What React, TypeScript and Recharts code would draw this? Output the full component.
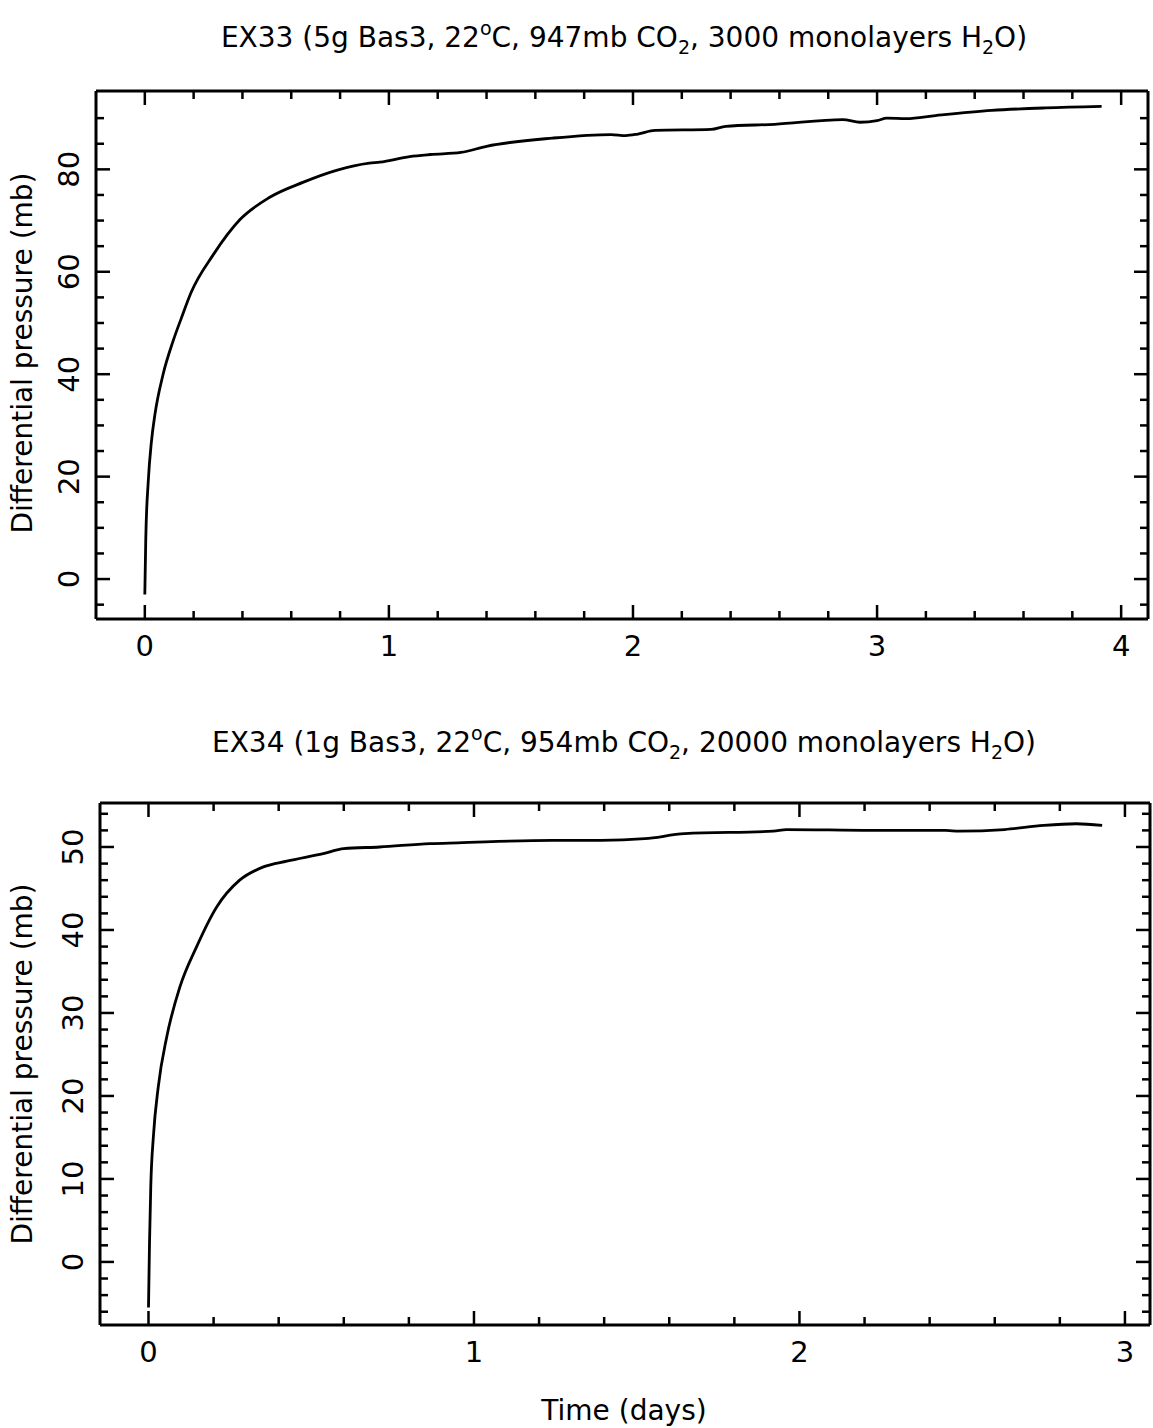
import React from "react";
import { LineChart, Line, XAxis, YAxis } from "recharts";

// EX33 run (top panel)
const ex33Days = [
  0, 0.004, 0.014, 0.027, 0.041, 0.075, 0.116, 0.15, 0.19, 0.28, 0.39, 0.51,
  0.65, 0.785, 0.92, 0.963, 1.085, 1.17, 1.295, 1.4, 1.67, 1.91, 1.97, 2.02,
  2.09, 2.32, 2.38, 2.58, 2.86, 2.93, 3.0, 3.04, 3.12, 3.24, 3.47, 3.69, 3.92,
];
const ex33Pressure = [
  -3, 8, 19, 26.8, 32, 40, 46.5, 51, 56, 63.3, 70.2, 74.5, 77.5, 79.8, 81.2,
  81.4, 82.5, 82.9, 83.3, 84.5, 86.1, 86.8, 86.6, 86.9, 87.6, 87.8, 88.4, 88.8,
  89.7, 89.2, 89.5, 90, 89.9, 90.5, 91.5, 92, 92.3,
];

// EX34 run (bottom panel)
const ex34Days = [
  0, 0.003, 0.007, 0.015, 0.03, 0.056, 0.097, 0.148, 0.21, 0.28, 0.353, 0.425,
  0.537, 0.6, 0.71, 0.865, 0.95, 1.24, 1.39, 1.525, 1.647, 1.92, 1.96, 2.22,
  2.45, 2.49, 2.63, 2.75, 2.85, 2.93,
];
const ex34Pressure = [
  -5.5, 2, 9.1, 15.1, 21.1, 27.1, 33.2, 38, 42.8, 46, 47.6, 48.3, 49.2, 49.8,
  50, 50.4, 50.5, 50.8, 50.8, 51, 51.6, 51.9, 52.1, 52, 52, 51.9, 52.1, 52.6,
  52.8, 52.6,
];

const ex33XTicks = [
  0, 0.2, 0.4, 0.6, 0.8, 1, 1.2, 1.4, 1.6, 1.8, 2, 2.2, 2.4, 2.6, 2.8, 3, 3.2,
  3.4, 3.6, 3.8, 4,
];
const ex33XLabels = [0, 1, 2, 3, 4];
const ex33YTicks = [
  -5, 0, 5, 10, 15, 20, 25, 30, 35, 40, 45, 50, 55, 60, 65, 70, 75, 80, 85, 90,
];
const ex33YLabels = [0, 20, 40, 60, 80];

const ex34XTicks = [
  0, 0.2, 0.4, 0.6, 0.8, 1, 1.2, 1.4, 1.6, 1.8, 2, 2.2, 2.4, 2.6, 2.8, 3,
];
const ex34XLabels = [0, 1, 2, 3];
const ex34YTicks = [
  -6, -4, -2, 0, 2, 4, 6, 8, 10, 12, 14, 16, 18, 20, 22, 24, 26, 28, 30, 32, 34,
  36, 38, 40, 42, 44, 46, 48, 50, 52, 54,
];
const ex34YLabels = [0, 10, 20, 30, 40, 50];

const FONT = "'DejaVu Sans', sans-serif";
const frame = { stroke: "#000", strokeWidth: 3 };

type Side = "bottom" | "top" | "left" | "right";

// ticks point inward, labels only on bottom/left majors
const makeTick = (side: Side, labels: number[]) => (props: any) => {
  const { x, y, payload } = props;
  const v = payload.value;
  const isMajor = labels.some((l) => Math.abs(l - v) < 1e-6);
  const len = isMajor ? 14 : 8;
  let x2 = x;
  let y2 = y;
  if (side === "bottom") y2 = y - len;
  if (side === "top") y2 = y + len;
  if (side === "left") x2 = x + len;
  if (side === "right") x2 = x - len;
  return (
    <g>
      <line x1={x} y1={y} x2={x2} y2={y2} stroke="#000" strokeWidth={2.5} />
      {isMajor && side === "bottom" && (
        <text
          x={x}
          y={y + 27}
          textAnchor="middle"
          dominantBaseline="central"
          style={{ fontFamily: FONT, fontSize: 29, fill: "#000" }}
        >
          {v}
        </text>
      )}
      {isMajor && side === "left" && (
        <text
          x={x - 27}
          y={y}
          textAnchor="middle"
          dominantBaseline="central"
          transform={`rotate(-90, ${x - 27}, ${y})`}
          style={{ fontFamily: FONT, fontSize: 29, fill: "#000" }}
        >
          {v}
        </text>
      )}
    </g>
  );
};

type PanelProps = {
  days: number[];
  values: number[];
  xDomain: [number, number];
  yDomain: [number, number];
  xTicks: number[];
  xLabels: number[];
  yTicks: number[];
  yLabels: number[];
  height: number;
  marginTop: number;
  marginRight: number;
  leftWidth: number;
  bottomHeight: number;
};

const Panel = (p: PanelProps) => {
  const data = p.days.map((d, i) => ({ day: d, pressure: p.values[i] }));
  return (
    <LineChart
      width={1153}
      height={p.height}
      data={data}
      margin={{ top: p.marginTop, right: p.marginRight, bottom: 0, left: 0 }}
    >
      <XAxis
        dataKey="day"
        type="number"
        domain={p.xDomain}
        allowDataOverflow
        ticks={p.xTicks}
        interval={0}
        height={p.bottomHeight}
        tickSize={0}
        tickMargin={0}
        tickLine={false}
        axisLine={frame}
        tick={makeTick("bottom", p.xLabels)}
      />
      <XAxis
        xAxisId="top"
        orientation="top"
        mirror
        dataKey="day"
        type="number"
        domain={p.xDomain}
        allowDataOverflow
        ticks={p.xTicks}
        interval={0}
        height={20}
        tickSize={0}
        tickMargin={0}
        tickLine={false}
        axisLine={frame}
        tick={makeTick("top", p.xLabels)}
      />
      <YAxis
        type="number"
        domain={p.yDomain}
        allowDataOverflow
        ticks={p.yTicks}
        interval={0}
        width={p.leftWidth}
        tickSize={0}
        tickMargin={0}
        tickLine={false}
        axisLine={frame}
        tick={makeTick("left", p.yLabels)}
      />
      <YAxis
        yAxisId="right"
        orientation="right"
        mirror
        type="number"
        domain={p.yDomain}
        allowDataOverflow
        ticks={p.yTicks}
        interval={0}
        width={20}
        tickSize={0}
        tickMargin={0}
        tickLine={false}
        axisLine={frame}
        tick={makeTick("right", p.yLabels)}
      />
      <Line
        dataKey="pressure"
        type="monotone"
        stroke="#000"
        strokeWidth={2.8}
        dot={false}
        isAnimationActive={false}
      />
    </LineChart>
  );
};

const textStyle: React.CSSProperties = {
  position: "absolute",
  fontFamily: FONT,
  fontSize: 28,
  color: "#000",
  whiteSpace: "nowrap",
  transform: "translate(-50%, -50%)",
};

const Title = ({ cx, cy, children }: { cx: number; cy: number; children: React.ReactNode }) => (
  <div style={{ ...textStyle, left: cx, top: cy }}>{children}</div>
);

const YLabel = ({ cx, cy }: { cx: number; cy: number }) => (
  <div
    style={{
      ...textStyle,
      left: cx,
      top: cy,
      transform: "translate(-50%, -50%) rotate(-90deg)",
    }}
  >
    Differential pressure (mb)
  </div>
);

const sub: React.CSSProperties = { fontSize: 19, verticalAlign: -7, lineHeight: 0 };
const sup: React.CSSProperties = { fontSize: 19, verticalAlign: 12, lineHeight: 0 };

export default function App() {
  return (
    <div
      style={{
        position: "absolute",
        left: 0,
        top: 0,
        width: 1153,
        height: 1428,
        background: "#fff",
      }}
    >
      <Title cx={624} cy={37}>
        EX33 (5g Bas3, 22<span style={sup}>o</span>C, 947mb CO<span style={sub}>2</span>, 3000
        monolayers H<span style={sub}>2</span>O)
      </Title>
      <div style={{ position: "absolute", left: 0, top: 0 }}>
        <Panel
          days={ex33Days}
          values={ex33Pressure}
          xDomain={[-0.2, 4.11]}
          yDomain={[-7.8, 95.3]}
          xTicks={ex33XTicks}
          xLabels={ex33XLabels}
          yTicks={ex33YTicks}
          yLabels={ex33YLabels}
          height={700}
          marginTop={91}
          marginRight={5}
          leftWidth={96}
          bottomHeight={81}
        />
      </div>
      <YLabel cx={22} cy={353} />

      <Title cx={624} cy={742}>
        EX34 (1g Bas3, 22<span style={sup}>o</span>C, 954mb CO<span style={sub}>2</span>, 20000
        monolayers H<span style={sub}>2</span>O)
      </Title>
      <div style={{ position: "absolute", left: 0, top: 700 }}>
        <Panel
          days={ex34Days}
          values={ex34Pressure}
          xDomain={[-0.149, 3.077]}
          yDomain={[-7.6, 55.3]}
          xTicks={ex34XTicks}
          xLabels={ex34XLabels}
          yTicks={ex34YTicks}
          yLabels={ex34YLabels}
          height={728}
          marginTop={103}
          marginRight={3}
          leftWidth={100}
          bottomHeight={103}
        />
      </div>
      <YLabel cx={22} cy={1064} />
      <Title cx={624} cy={1410}>
        Time (days)
      </Title>
    </div>
  );
}
